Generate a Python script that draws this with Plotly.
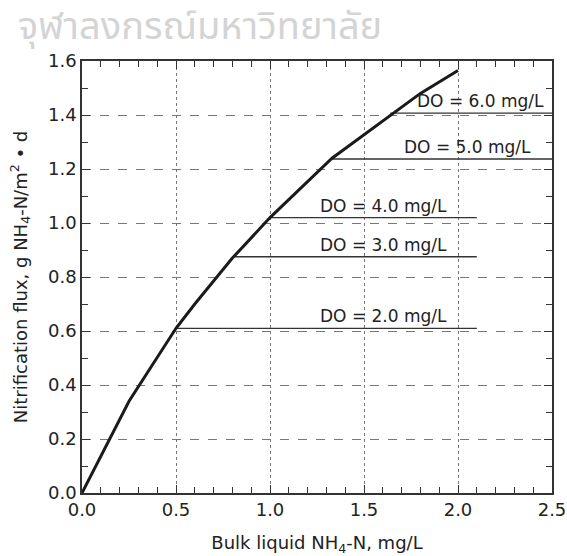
import plotly.graph_objects as go

# Data
x_curve = [0, 0.25, 0.5, 0.6, 0.8, 1.0, 1.33, 1.65, 1.8, 2.0]
y_curve = [0, 0.34, 0.61, 0.70, 0.87, 1.02, 1.24, 1.405, 1.48, 1.565]

do_labels = ["DO = 2.0 mg/L", "DO = 3.0 mg/L", "DO = 4.0 mg/L", "DO = 5.0 mg/L", "DO = 6.0 mg/L"]
do_flux = [0.61, 0.875, 1.02, 1.237, 1.407]
do_start = [0.5, 0.8, 1.0, 1.33, 1.64]
do_end = [2.1, 2.1, 2.1, 2.5, 2.5]
label_x = [1.95, 1.95, 1.95, 2.40, 2.47]

x_ticks = [0.0, 0.5, 1.0, 1.5, 2.0, 2.5]
y_ticks = [0.0, 0.2, 0.4, 0.6, 0.8, 1.0, 1.2, 1.4, 1.6]

FONT = "DejaVu Sans, Liberation Sans, Arial, sans-serif"
TXT = "#222222"

fig = go.Figure()

for i in range(len(do_labels)):
    fig.add_trace(go.Scatter(x=[do_start[i], do_end[i]], y=[do_flux[i], do_flux[i]],
                             mode="lines", line=dict(color="#333333", width=1.3),
                             showlegend=False, hoverinfo="skip"))
    fig.add_annotation(x=label_x[i], y=do_flux[i], text=do_labels[i], showarrow=False,
                       xanchor="right", yanchor="bottom", yshift=0,
                       font=dict(family=FONT, size=17, color=TXT))

fig.add_trace(go.Scatter(x=x_curve, y=y_curve, mode="lines",
                         line=dict(color="#1a1a1a", width=3), showlegend=False))

fig.add_annotation(xref="paper", yref="paper", x=-0.138, y=1.078, xanchor="left", yanchor="middle",
                   text="จุฬาลงกรณ์มหาวิทยาลัย", showarrow=False, borderpad=0,
                   font=dict(family="Noto Sans Thai, Noto Sans, DejaVu Sans, sans-serif", size=38, color="#d4d4d4"))

axis_common = dict(showline=True, linecolor="#333333", linewidth=1.5, mirror="ticks",
                   ticks="inside", ticklen=8, tickcolor="#333333", tickwidth=1,
                   showgrid=True, gridcolor="#777777", gridwidth=1, zeroline=False,
                   automargin=False,
                   tickfont=dict(family=FONT, size=18, color=TXT))

fig.update_xaxes(range=[0, 2.5], tickvals=x_ticks, ticktext=[f"{v:.1f}" for v in x_ticks],
                 griddash="dot",
                 minor=dict(dtick=0.1, tick0=0, ticks="inside", ticklen=6, tickcolor="#333333", showgrid=False),
                 title=dict(text="Bulk liquid NH<sub>4</sub>-N, mg/L", font=dict(family=FONT, size=18, color=TXT), standoff=19),
                 **axis_common)
fig.update_yaxes(range=[0, 1.6], tickvals=y_ticks, ticktext=[f"{v:.1f}" for v in y_ticks],
                 griddash="dash",
                 minor=dict(dtick=0.1, tick0=0, ticks="inside", ticklen=6, tickcolor="#333333", showgrid=False),
                 title=dict(text="Nitrification flux, g NH<sub>4</sub>-N/m<sup>2</sup> • d", font=dict(family=FONT, size=18, color=TXT), standoff=16),
                 **axis_common)

fig.update_layout(width=567, height=556, margin=dict(l=82, r=15, t=61, b=63),
                  plot_bgcolor="white", paper_bgcolor="white")

fig.write_html("out.html", config={"displayModeBar": False},
               post_script="document.body.style.margin='0';document.body.style.overflow='hidden';")
